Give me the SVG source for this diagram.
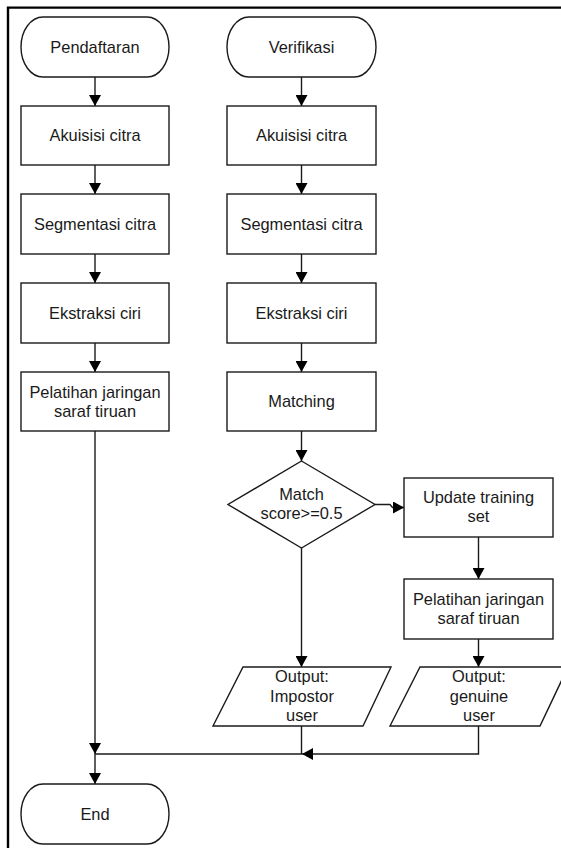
<svg xmlns="http://www.w3.org/2000/svg" width="561" height="848" viewBox="0 0 561 848">
<style>
.s{fill:#fff;stroke:#1a1a1a;stroke-width:1.4}
.c{fill:none;stroke:#1a1a1a;stroke-width:1.4}
text{font-family:"Liberation Sans",Arial,sans-serif;font-size:16.4px;fill:#1a1a1a;text-anchor:middle}
</style>
<defs>
<marker id="a" viewBox="0 0 11 12" refX="11" refY="6" markerWidth="11" markerHeight="12" markerUnits="userSpaceOnUse" orient="auto">
<path d="M0,0 L11,6 L0,12 z" fill="#000"/>
</marker>
</defs>
<rect width="561" height="848" fill="#fff"/>
<path d="M8,848 V7.6 H561" fill="none" stroke="#000" stroke-width="2.4"/>
<g id="connectors">
<path class="c" d="M95,77 V106" marker-end="url(#a)"/>
<path class="c" d="M95,165 V194" marker-end="url(#a)"/>
<path class="c" d="M95,254 V283" marker-end="url(#a)"/>
<path class="c" d="M95,343 V372" marker-end="url(#a)"/>
<path class="c" d="M95,431 V754" marker-end="url(#a)"/>
<path class="c" d="M95,754 V784" marker-end="url(#a)"/>
<path class="c" d="M301.5,77 V106" marker-end="url(#a)"/>
<path class="c" d="M301.5,165 V194" marker-end="url(#a)"/>
<path class="c" d="M301.5,254 V283" marker-end="url(#a)"/>
<path class="c" d="M301.5,343 V372" marker-end="url(#a)"/>
<path class="c" d="M301.5,431 V461" marker-end="url(#a)"/>
<path class="c" d="M301.5,548 V667" marker-end="url(#a)"/>
<path class="c" d="M375,504.5 H390 L392.5,507.5 H404" marker-end="url(#a)"/>
<path class="c" d="M478.5,537 V579" marker-end="url(#a)"/>
<path class="c" d="M478.5,639 V667" marker-end="url(#a)"/>
<path class="c" d="M301.5,726 V754"/>
<path class="c" d="M478.5,726 V754 H302" marker-end="url(#a)"/>
<path class="c" d="M302,754 H95"/>
</g>
<g id="pendaftaran"><rect class="s" x="21" y="17" width="148" height="60" rx="22" ry="30"/><text x="95" y="52.8">Pendaftaran</text></g>
<g id="akuisisi1"><rect class="s" x="21" y="106" width="148" height="59"/><text x="95" y="141.3">Akuisisi citra</text></g>
<g id="segmentasi1"><rect class="s" x="21" y="194" width="148" height="60"/><text x="95" y="229.8">Segmentasi citra</text></g>
<g id="ekstraksi1"><rect class="s" x="21" y="283" width="148" height="60"/><text x="95" y="318.8">Ekstraksi ciri</text></g>
<g id="pelatihan1"><rect class="s" x="21" y="372" width="148" height="59"/><text x="95" y="397.5">Pelatihan jaringan</text><text x="95" y="416.5">saraf tiruan</text></g>
<g id="verifikasi"><rect class="s" x="227" y="17" width="149" height="60" rx="22" ry="30"/><text x="301.5" y="52.8">Verifikasi</text></g>
<g id="akuisisi2"><rect class="s" x="227" y="106" width="149" height="59"/><text x="301.5" y="141.3">Akuisisi citra</text></g>
<g id="segmentasi2"><rect class="s" x="227" y="194" width="149" height="60"/><text x="301.5" y="229.8">Segmentasi citra</text></g>
<g id="ekstraksi2"><rect class="s" x="227" y="283" width="149" height="60"/><text x="301.5" y="318.8">Ekstraksi ciri</text></g>
<g id="matching"><rect class="s" x="227" y="372" width="149" height="59"/><text x="301.5" y="407.3">Matching</text></g>
<g id="decision"><polygon class="s" points="301.5,461 375,504.5 301.5,548 228,504.5"/><text x="301.5" y="500">Match</text><text x="301.5" y="519">score&gt;=0.5</text></g>
<g id="update"><rect class="s" x="404" y="478" width="149" height="59"/><text x="478.5" y="503">Update training</text><text x="478.5" y="522">set</text></g>
<g id="pelatihan2"><rect class="s" x="404" y="579" width="149" height="60"/><text x="478.5" y="605">Pelatihan jaringan</text><text x="478.5" y="624">saraf tiruan</text></g>
<g id="impostor"><polygon class="s" points="243,667 391,667 363,726 213,726"/><text x="302" y="682">Output:</text><text x="302" y="701.5">Impostor</text><text x="302" y="721">user</text></g>
<g id="genuine"><polygon class="s" points="420,667 568,667 540,726 390,726"/><text x="479" y="682">Output:</text><text x="479" y="701.5">genuine</text><text x="479" y="721">user</text></g>
<g id="end"><rect class="s" x="21" y="784" width="148" height="60" rx="22" ry="30"/><text x="95" y="819.8">End</text></g>
</svg>
